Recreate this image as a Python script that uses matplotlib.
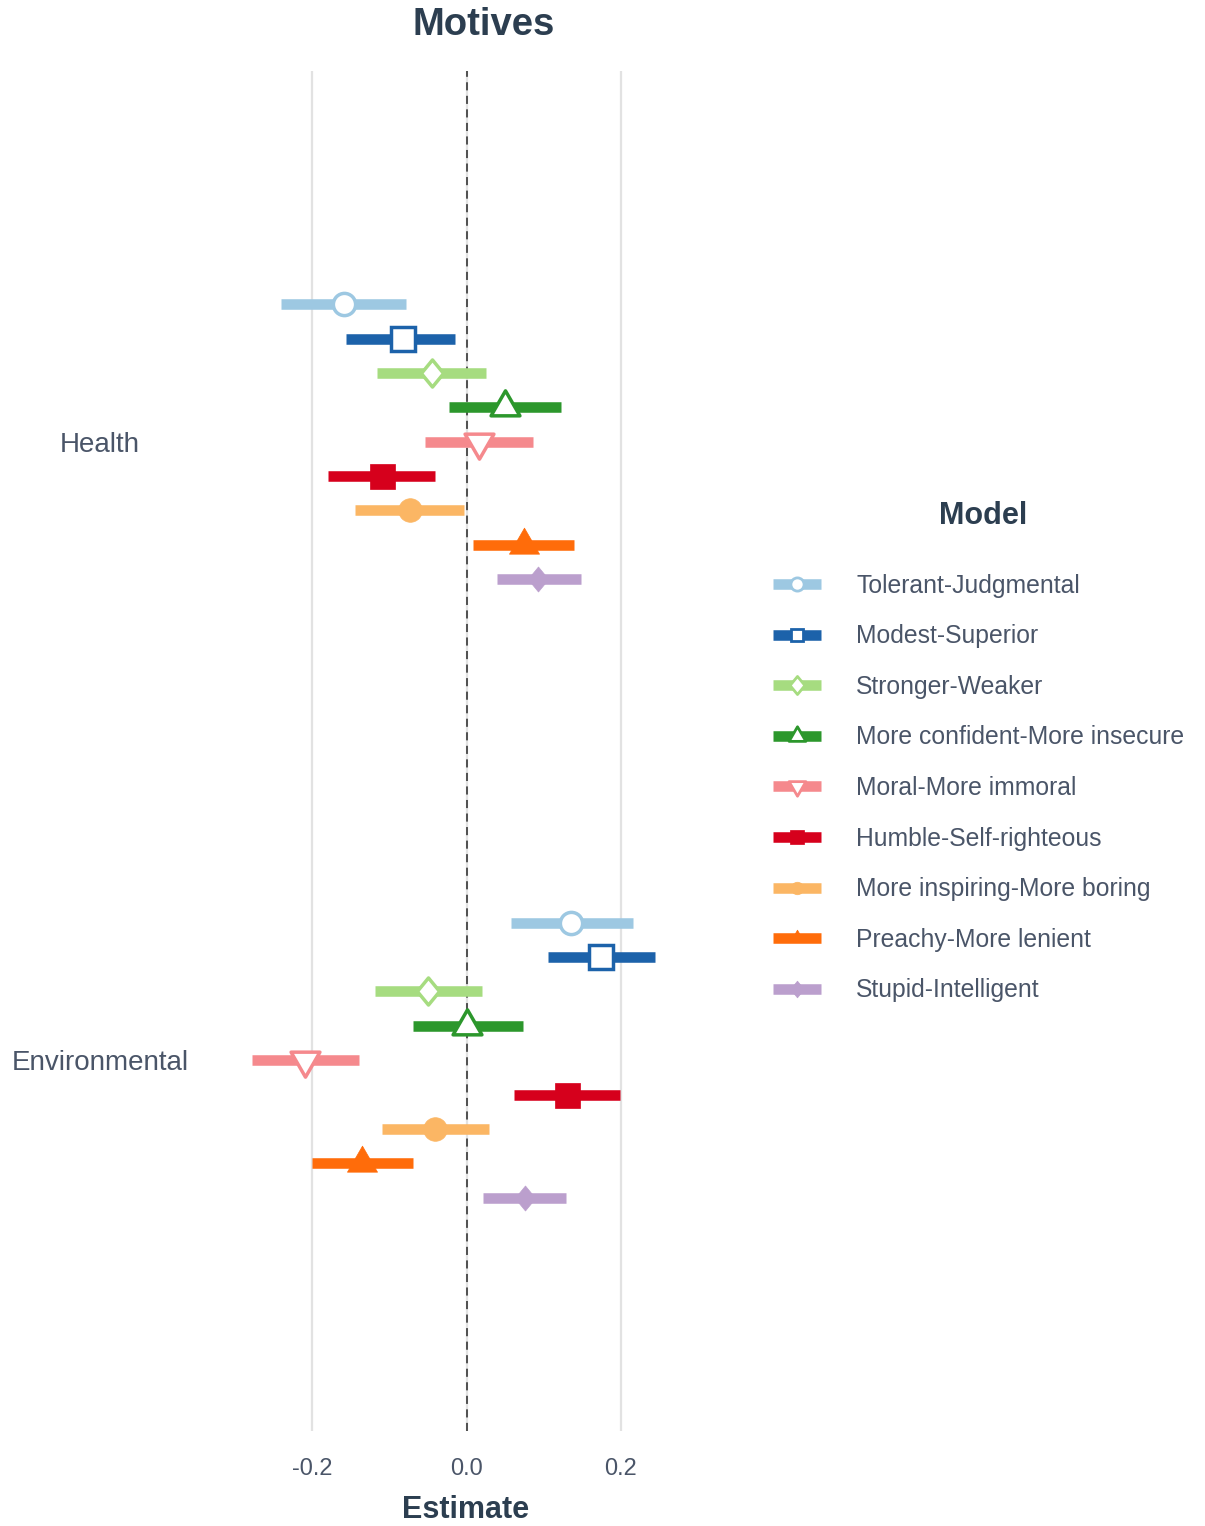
import matplotlib
matplotlib.use('Agg')
import matplotlib.pyplot as plt
from matplotlib.lines import Line2D
from matplotlib.path import Path

plt.rcParams['font.family'] = ['Liberation Sans', 'DejaVu Sans']

# model names and the two outcome groups
models = ['Tolerant-Judgmental', 'Modest-Superior', 'Stronger-Weaker',
          'More confident-More insecure', 'Moral-More immoral',
          'Humble-Self-righteous', 'More inspiring-More boring',
          'Preachy-More lenient', 'Stupid-Intelligent']
groups = ['Health', 'Environmental']

# estimates with lower / upper interval bounds
health_est = [-0.159, -0.083, -0.045, 0.050, 0.016, -0.110, -0.073, 0.074, 0.092]
health_lo = [-0.240, -0.156, -0.116, -0.023, -0.054, -0.180, -0.145, 0.008, 0.039]
health_hi = [-0.078, -0.015, 0.025, 0.122, 0.086, -0.041, -0.003, 0.139, 0.148]

env_est = [0.135, 0.174, -0.050, 0.001, -0.209, 0.130, -0.041, -0.135, 0.075]
env_lo = [0.057, 0.105, -0.119, -0.070, -0.278, 0.062, -0.110, -0.200, 0.021]
env_hi = [0.215, 0.244, 0.020, 0.073, -0.140, 0.199, 0.029, -0.070, 0.129]

xticks = [-0.2, 0.0, 0.2]
xticklabels = ['-0.2', '0.0', '0.2']

colors = ['#9DC8E2', '#1C62AA', '#A6DC80', '#2C972C', '#F5898D',
          '#D6001C', '#FBB664', '#FF6C0A', '#BB9FCD']


def closed(verts):
    return Path(verts + [verts[0]], closed=True)


tri_up = closed([(0, 1), (-0.866, -0.5), (0.866, -0.5)])
tri_down = closed([(0, -1), (0.866, 0.5), (-0.866, 0.5)])
diamond = closed([(0, 1), (0.82, 0), (0, -1), (-0.82, 0)])

markers = ['o', 's', diamond, tri_up, tri_down, 's', 'o', tri_up, diamond]
filled = [False, False, False, False, False, True, True, True, True]
msizes = [16, 17, 19.5, 24, 24, 18, 17, 25, 18]
leg_sizes = [9.5, 9, 13, 14, 14, 9.5, 9, 12, 12]

text_col = '#4A5568'
title_col = '#2C3E50'

fig = plt.figure(figsize=(12.05, 15.26), dpi=100)
px = 1 / 1205
py = 1 / 1526
xlim = (-0.304, 0.270)
ax = fig.add_axes([232 * px, 1 - 1431.3 * py, 443 * px, (1431.3 - 70.6) * py])
ax.set_xlim(*xlim)
ax.set_ylim(0.4, 2.6)

# light vertical gridlines and the dashed zero reference
for xv in xticks:
    ax.axvline(xv, color='#E2E2E2', lw=1.6, zorder=0)
ax.axvline(0, color='#444444', lw=1.3, dashes=(4.5, 3), zorder=1)

group_y = {'Health': 2, 'Environmental': 1}
data = {'Health': (health_est, health_lo, health_hi),
        'Environmental': (env_est, env_lo, env_hi)}
step = 0.5 / len(models)

for g in groups:
    est, lo, hi = data[g]
    for i, m in enumerate(models):
        y = group_y[g] + (4 - i) * step
        c = colors[i]
        ax.plot([lo[i], hi[i]], [y, y], color=c, lw=7.6,
                solid_capstyle='butt', zorder=2)
        ax.plot(est[i], y, marker=markers[i], ms=msizes[i], linestyle='none',
                mfc=c if filled[i] else 'white', mec=c,
                mew=0.5 if filled[i] else 2.5, zorder=3)

ax.set_xticks(xticks)
ax.set_xticklabels(xticklabels)
ax.set_yticks([group_y[g] for g in groups])
ax.set_yticklabels(groups, ha='center')
ax.tick_params(axis='x', length=0, pad=19, labelsize=17, labelcolor=text_col)
ax.tick_params(axis='y', length=0, pad=95, labelsize=20, labelcolor=text_col)
for s in ax.spines.values():
    s.set_visible(False)

fig.text(466 * px, 1 - 1510 * py, 'Estimate', ha='center', va='center',
         fontsize=22, weight='bold', color=title_col)
fig.text(484 * px, 1 - 25 * py, 'Motives', ha='center', va='center',
         fontsize=27.5, weight='bold', color=title_col)

# legend
handles = []
for i in range(len(models)):
    c = colors[i]
    handles.append(Line2D([], [], color=c, lw=7.6, solid_capstyle='butt',
                          marker=markers[i], ms=leg_sizes[i],
                          mfc=c if filled[i] else 'white', mec=c,
                          mew=0.5 if filled[i] else 2.0))
fig.legend(handles, models, loc='center left',
           bbox_to_anchor=(773 * px, 1 - 788 * py), frameon=False,
           borderpad=0, borderaxespad=0, handlelength=1.96,
           handletextpad=1.4, labelspacing=1.075, fontsize=17.8,
           labelcolor=text_col, numpoints=1)
fig.text(983 * px, 1 - 516 * py, 'Model', ha='center', va='center',
         fontsize=22, weight='bold', color=title_col)

fig.savefig('out.png', dpi=100, facecolor='white')
